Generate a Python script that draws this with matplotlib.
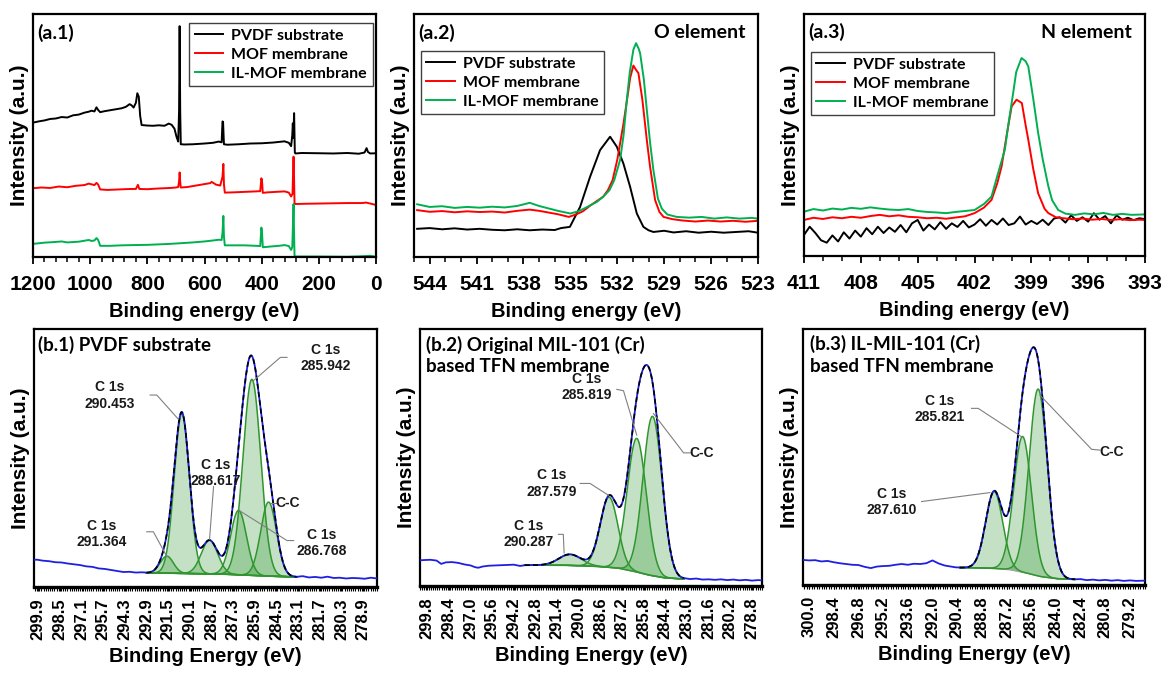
import numpy as np
import matplotlib
matplotlib.use('Agg')
import matplotlib.pyplot as plt
from matplotlib.ticker import FixedLocator

plt.rcParams['font.family'] = ['Liberation Sans', 'DejaVu Sans']
plt.rcParams['font.weight'] = 'bold'
plt.rcParams['axes.labelweight'] = 'bold'
LBL_FONT = ['Lato', 'DejaVu Sans']

# ---------------- (a.1) survey spectra ----------------
a1_pvdf_x = [1200, 1180, 1160, 1140, 1120, 1100, 1080, 1060, 1040, 1020, 1005, 995, 985, 978, 972, 965,
             950, 930, 910, 890, 875, 862, 855, 848, 840, 835, 830, 825, 820, 800, 780, 760, 740, 725,
             715, 705, 698, 692, 689, 687, 685, 683, 670, 640, 600, 570, 550, 540, 537, 535, 532, 520,
             480, 440, 400, 360, 320, 305, 297, 293, 291, 289, 286.5, 284, 282, 260, 200, 150, 100, 60,
             40, 33, 28, 20, 0]
a1_pvdf_y = [55.3, 55.8, 56.2, 56.8, 57.0, 57.6, 57.4, 58.3, 58.6, 59.4, 59.8, 60.2, 59.9, 61.6, 60.5, 59.6,
             60.0, 60.4, 60.8, 61.2, 61.8, 62.9, 62.4, 61.5, 63.5, 67.4, 66.0, 58.0, 54.3, 54.1, 54.0, 54.2,
             54.0, 54.9, 54.4, 52.8, 49.5, 47.5, 60.0, 95.0, 60.0, 46.4, 46.3, 46.4, 46.7, 47.0, 47.5, 47.2,
             55.8, 55.5, 46.4, 46.2, 46.4, 46.7, 46.8, 47.1, 47.6, 47.0, 45.6, 50.0, 55.0, 49.0, 59.2, 43.0,
             42.6, 42.8, 42.7, 42.6, 42.8, 42.5, 43.0, 44.8, 43.2, 42.6, 42.7]
a1_mof_x = [1200, 1170, 1140, 1110, 1080, 1050, 1020, 1005, 995, 985, 978, 972, 965, 940, 900, 860, 840,
            833, 828, 800, 760, 720, 700, 692, 689, 687, 685, 683, 660, 640, 620, 600, 580, 575, 560, 545,
            537, 534, 532, 529, 500, 460, 420, 405, 401, 399, 396, 380, 350, 320, 305, 297, 292, 290,
            288.5, 287, 285, 282, 250, 200, 150, 100, 50, 35, 20, 0]
a1_mof_y = [28.3, 28.6, 28.4, 29.0, 28.7, 29.3, 29.6, 30.2, 29.9, 29.6, 30.5, 29.8, 27.8, 27.6, 27.8, 28.0,
            28.0, 29.7, 28.0, 27.9, 28.2, 28.4, 28.6, 28.8, 31.0, 34.8, 31.0, 28.6, 28.8, 29.2, 29.6, 30.0,
            30.4, 30.9, 29.8, 29.4, 33.0, 38.3, 30.0, 26.5, 26.6, 26.8, 27.0, 27.1, 32.4, 31.5, 26.4, 26.6,
            26.8, 27.0, 26.5, 24.9, 26.0, 35.0, 41.3, 34.0, 22.0, 21.8, 21.9, 22.0, 22.1, 22.2, 22.2, 22.4,
            22.0, 21.4]
a1_il_x = [1200, 1160, 1120, 1100, 1080, 1040, 1005, 995, 985, 978, 972, 965, 930, 890, 850, 800, 760,
           720, 680, 640, 600, 570, 550, 540, 537, 534, 532, 529, 500, 460, 420, 405, 401, 399, 396, 370,
           340, 320, 305, 297, 293, 290, 288.5, 287, 285, 282, 200, 100, 50, 20, 0]
a1_il_y = [5.4, 5.9, 6.2, 6.4, 6.0, 6.3, 7.0, 6.6, 6.8, 7.8, 7.0, 4.6, 4.6, 4.8, 4.9, 5.0, 5.2, 5.4, 5.7,
           6.0, 6.4, 6.8, 7.1, 7.0, 10.0, 16.9, 8.5, 4.8, 4.8, 4.8, 4.6, 4.5, 12.1, 10.5, 4.0, 4.3, 4.6,
           4.9, 4.5, 2.9, 4.0, 15.0, 21.8, 12.0, 0.5, 0.2, 0.2, 0.1, 0.3, 0.5, 0.1]

# ---------------- (a.2) O element ----------------
a2_pvdf_x = [544.8, 544.0, 543.2, 542.4, 541.6, 540.8, 540.0, 539.2, 538.4, 537.6, 536.8, 536.0, 535.6,
             535.03, 534.38, 533.74, 533.1, 532.46, 532.03, 531.61, 531.18, 530.75, 530.33, 530.0, 529.69,
             529.0, 528.4, 527.6, 526.8, 526.0, 525.2, 524.4, 523.6, 523.0]
a2_pvdf_y = [11.6, 11.9, 11.4, 11.8, 11.3, 11.6, 11.2, 11.0, 11.4, 11.0, 11.3, 11.1, 11.9,
             12.4, 20.6, 33.0, 44.0, 49.5, 45.4, 38.5, 28.9, 17.9, 12.4, 11.0, 10.3,
             10.8, 10.1, 10.6, 10.0, 10.4, 10.0, 10.3, 10.6, 10.0]
a2_mof_x = [544.8, 544.0, 543.2, 542.4, 541.6, 540.8, 540.0, 539.2, 538.4, 537.6, 537.0, 536.4, 535.8,
            535.1, 534.6, 534.2, 533.7, 533.2, 532.9, 532.6, 532.3, 532.0, 531.6, 531.3, 531.18, 530.97,
            530.8, 530.65, 530.4, 530.11, 529.9, 529.58, 529.3, 529.04, 528.5, 527.8, 527.0, 526.2,
            525.4, 524.6, 523.8, 523.0]
a2_mof_y = [19.3, 18.6, 18.9, 18.4, 18.8, 18.5, 18.7, 18.3, 19.0, 19.5, 19.0, 18.3, 17.6,
            16.5, 17.6, 18.8, 21.3, 23.5, 24.8, 27.5, 31.6, 40.0, 55.0, 68.0, 73.6, 78.8,
            77.0, 75.7, 65.0, 48.1, 37.0, 23.4, 18.5, 16.5, 15.6, 15.0, 14.6, 15.0,
            14.6, 14.9, 14.5, 14.9]
a2_il_x = [544.8, 544.0, 543.2, 542.4, 541.6, 540.8, 540.0, 539.2, 538.4, 537.6, 537.0, 536.4, 535.8,
           535.0, 534.5, 534.1, 533.3, 532.9, 532.5, 532.2, 531.82, 531.6, 531.39, 531.2, 530.97, 530.8,
           530.65, 530.54, 530.3, 530.11, 529.9, 529.69, 529.4, 529.15, 528.8, 528.2, 527.4, 526.6,
           525.8, 525.0, 524.2, 523.4, 523.0]
a2_il_y = [21.7, 20.6, 20.9, 20.2, 20.6, 20.3, 20.7, 20.4, 21.0, 22.3, 21.0, 20.0, 19.0,
           17.9, 18.8, 20.0, 22.7, 24.8, 27.5, 31.5, 39.9, 50.0, 64.6, 76.0, 85.3, 88.0,
           86.0, 83.9, 73.0, 60.5, 47.0, 35.8, 24.0, 19.9, 17.5, 16.5, 16.2, 16.5,
           15.8, 16.3, 15.8, 16.1, 15.8]

# ---------------- (a.3) N element ----------------
a3_pvdf_x = [411.0, 410.7, 410.4, 410.1, 409.8, 409.5, 409.2, 408.9, 408.6, 408.3, 408.0, 407.7, 407.4,
             407.1, 406.8, 406.5, 406.2, 405.9, 405.6, 405.3, 405.0, 404.7, 404.4, 404.1, 403.8, 403.5,
             403.2, 402.9, 402.6, 402.3, 402.0, 401.7, 401.4, 401.1, 400.8, 400.5, 400.2, 399.9, 399.6,
             399.3, 399.0, 398.7, 398.4, 398.1, 397.8, 397.5, 397.2, 396.9, 396.6, 396.3, 396.0, 395.7,
             395.4, 395.1, 394.8, 394.5, 394.2, 393.9, 393.6, 393.3, 393.0]
a3_pvdf_y = [8.7, 12.1, 9.5, 6.5, 5.5, 8.5, 6.0, 9.8, 7.2, 10.5, 8.0, 11.5, 9.0,
             12.1, 9.5, 11.8, 10.0, 12.8, 9.8, 13.5, 14.9, 10.5, 13.0, 11.0, 14.0, 11.2,
             13.5, 12.0, 14.5, 11.8, 13.0, 15.2, 12.5, 14.9, 13.0, 15.5, 12.8, 13.5, 16.3,
             13.0, 14.5, 13.2, 15.0, 12.8, 15.5, 16.0, 13.8, 16.8, 14.5, 16.0, 14.2, 17.7,
             15.0, 16.5, 13.5, 16.8, 15.0, 15.8, 14.8, 15.6, 15.2]
a3_mof_x = [411.0, 410.5, 410.0, 409.5, 409.0, 408.5, 408.0, 407.5, 407.0, 406.5, 406.0, 405.5, 405.0,
            404.5, 404.0, 403.5, 403.0, 402.5, 402.0, 401.5, 401.1, 400.8, 400.57, 400.3, 400.04, 399.78,
            399.5, 399.3, 399.16, 398.9, 398.64, 398.3, 398.1, 397.7, 397.3, 396.8, 396.3, 395.8, 395.3,
            394.8, 394.3, 393.8, 393.3, 393.0]
a3_mof_y = [14.9, 15.8, 15.3, 16.0, 15.6, 16.2, 15.8, 16.5, 17.0, 16.4, 16.8, 16.2, 16.0,
            15.6, 15.8, 15.4, 15.9, 16.4, 17.7, 20.0, 23.2, 30.0, 37.0, 50.0, 61.8, 64.6,
            63.2, 54.0, 48.0, 36.0, 25.9, 19.5, 17.7, 16.0, 15.6, 15.2, 15.5, 15.0, 15.3,
            14.9, 15.2, 14.8, 15.0, 14.9]
a3_il_x = [411.0, 410.5, 410.0, 409.5, 409.0, 408.5, 408.0, 407.5, 407.0, 406.5, 406.0, 405.5, 405.0,
           404.5, 404.0, 403.5, 403.0, 402.5, 402.0, 401.5, 401.1, 400.8, 400.4, 400.2, 399.96, 399.8,
           399.52, 399.3, 399.16, 398.9, 398.64, 398.4, 398.1, 397.9, 397.58, 397.2, 396.7, 396.2,
           395.7, 395.2, 394.7, 394.2, 393.7, 393.0]
a3_il_y = [18.3, 19.4, 18.8, 19.6, 19.2, 19.9, 19.5, 20.1, 19.6, 19.2, 19.0, 19.4, 18.6,
           18.2, 18.0, 17.7, 18.2, 18.6, 19.0, 21.5, 24.6, 33.0, 43.9, 55.0, 67.3, 76.0,
           81.8, 80.5, 78.3, 65.0, 50.8, 40.0, 28.7, 23.0, 19.0, 17.5, 17.0, 17.6,
           17.2, 17.8, 17.0, 17.4, 17.0, 17.2]

SERIES_NAMES = ['PVDF substrate', 'MOF membrane', 'IL-MOF membrane']

# ---------------- (b) C 1s fits ----------------
# b.1 PVDF substrate
b1_raw_left_x = [300.18, 300.0, 299.6, 299.2, 298.8, 298.4, 298.0, 297.6, 297.2, 296.8, 296.4, 296.0,
                 295.6, 295.2, 294.8, 294.4, 294.0, 293.6, 293.2]
b1_raw_left_y = [10.5, 10.6, 10.2, 10.0, 9.6, 9.5, 9.1, 8.8, 8.5, 8.0, 7.8, 7.2, 7.0, 6.6, 6.2, 5.8,
                 5.9, 5.6, 5.7]
b1_raw_right_x = [282.8, 282.4, 282.0, 281.6, 281.2, 280.8, 280.4, 280.0, 279.6, 279.2, 278.8, 278.4, 278.0]
b1_raw_right_y = [4.2, 3.7, 3.9, 3.6, 4.0, 3.5, 3.6, 3.3, 3.5, 3.4, 3.2, 3.6, 3.3]
b1_bg_x = [292.9, 290.0, 288.0, 286.5, 285.0, 283.2]
b1_bg_y = [5.5, 5.2, 5.0, 4.6, 4.2, 3.9]
b1_centers = [291.59, 290.62, 288.83, 286.95, 286.09, 285.01]
b1_heights = [6.6, 62.0, 13.0, 25.0, 76.0, 28.7]
b1_fwhm = [1.0, 1.15, 1.25, 1.2, 1.35, 1.2]
b1_labels = ['C 1s\n291.364', 'C 1s\n290.453', 'C 1s\n288.617', 'C 1s\n286.768', 'C 1s\n285.942', 'C-C']

# b.2 Original MIL-101 (Cr)
b2_raw_left_x = [300.27, 300.0, 299.6, 299.2, 298.9, 298.6, 298.2, 297.8, 297.4, 297.0, 296.7, 296.5,
                 296.2, 295.8, 295.4, 295.0, 294.6, 294.2, 293.8]
b2_raw_left_y = [10.0, 10.1, 10.2, 9.9, 8.6, 9.2, 9.3, 9.0, 8.4, 8.0, 7.3, 7.1, 7.6, 7.9, 8.0, 8.1,
                 8.2, 8.3, 7.8]
b2_raw_right_x = [282.8, 282.4, 282.0, 281.6, 281.2, 280.8, 280.4, 280.0, 279.6, 279.2, 278.8, 278.4, 278.15]
b2_raw_right_y = [2.7, 2.9, 2.5, 2.6, 2.4, 2.6, 2.3, 2.5, 2.2, 2.4, 2.1, 2.3, 2.2]
b2_bg_x = [293.5, 291.0, 289.0, 287.5, 286.5, 285.5, 284.5, 283.5, 283.2]
b2_bg_y = [8.1, 8.1, 7.7, 7.0, 5.8, 4.3, 3.2, 2.8, 2.8]
b2_centers = [290.56, 288.04, 286.25, 285.23]
b2_heights = [4.3, 27.3, 52.0, 62.0]
b2_fwhm = [1.7, 1.35, 1.45, 1.45]
b2_labels = ['C 1s\n290.287', 'C 1s\n287.579', 'C 1s\n285.819', 'C-C']

# b.3 IL-MIL-101 (Cr)
b3_raw_left_x = [300.39, 300.0, 299.6, 299.2, 298.8, 298.4, 298.0, 297.6, 297.2, 296.8, 296.4, 296.0,
                 295.6, 295.2, 294.8, 294.4, 294.0, 293.6, 293.2, 292.8, 292.4, 292.0, 291.6, 291.2,
                 290.8, 290.5]
b3_raw_left_y = [9.8, 9.6, 9.7, 9.2, 9.4, 8.9, 8.5, 8.2, 7.9, 7.8, 7.1, 6.6, 7.2, 7.4, 7.5, 7.9,
                 8.2, 7.9, 8.3, 8.2, 8.5, 9.6, 8.4, 7.6, 7.2, 6.9]
b3_raw_right_x = [282.4, 282.0, 281.6, 281.2, 280.8, 280.4, 280.0, 279.6, 279.2, 278.8, 278.23]
b3_raw_right_y = [2.3, 1.9, 2.1, 1.8, 2.0, 1.7, 1.9, 1.6, 1.8, 1.6, 1.7]
b3_bg_x = [290.23, 289.0, 288.0, 287.0, 286.0, 285.0, 284.0, 283.0, 282.77]
b3_bg_y = [6.8, 6.7, 6.5, 6.0, 4.8, 3.3, 2.5, 2.2, 2.2]
b3_centers = [288.0, 286.16, 285.15]
b3_heights = [30.0, 53.0, 73.0]
b3_fwhm = [1.3, 1.35, 1.4]
b3_labels = ['C 1s\n287.610', 'C 1s\n285.821', 'C-C']

# ---------------- layout helpers ----------------
W, H = 1166, 675
fig = plt.figure(figsize=(W / 100, H / 100), dpi=100)


def rect(x0, y0, x1, y1):
    return [x0 / W, 1 - y1 / H, (x1 - x0) / W, (y1 - y0) / H]


C_BLACK, C_RED, C_GREEN = '#000000', '#ff0000', '#00b050'
FIT_GREEN = '#2f962f'


def style_a(ax, xlim, majors, minors):
    ax.set_xlim(*xlim)
    ax.set_ylim(0, 100)
    ax.xaxis.set_major_locator(FixedLocator(majors))
    ax.xaxis.set_minor_locator(FixedLocator(minors))
    ax.set_yticks([])
    ax.tick_params(axis='x', which='major', direction='out', length=5, width=1.3,
                   labelsize=15, pad=8)
    ax.tick_params(axis='x', which='minor', direction='out', length=3.5, width=1.1)
    for s in ax.spines.values():
        s.set_linewidth(1.6)
    ax.set_xlabel('Binding energy (eV)', fontsize=14.5, labelpad=6)
    ax.set_ylabel('Intensity (a.u.)', fontsize=15, labelpad=3)


def legend_a(ax, anchor):
    leg = ax.legend(loc='upper left', bbox_to_anchor=anchor, borderaxespad=0,
                    prop={'family': LBL_FONT, 'weight': 'bold', 'size': 11.5},
                    fancybox=False, framealpha=1, edgecolor='#404040',
                    handlelength=1.8, handletextpad=0.5, labelspacing=0.3, borderpad=0.35)
    leg.get_frame().set_linewidth(1.0)


def plot_three(ax, data):
    cols = [C_BLACK, C_RED, C_GREEN]
    for (x, y), c, n in zip(data, cols, SERIES_NAMES):
        ax.plot(x, y, color=c, lw=1.4, label=n)


def corner_text(ax, x, text, ha):
    ax.text(x, 0.924, text, transform=ax.transAxes, ha=ha, va='center',
            fontsize=14, family=LBL_FONT, fontweight='bold')


# (a.1)
ax1 = fig.add_axes(rect(33, 14, 376, 257))
plot_three(ax1, [(a1_pvdf_x, a1_pvdf_y), (a1_mof_x, a1_mof_y), (a1_il_x, a1_il_y)])
style_a(ax1, (1200, 0), np.arange(0, 1201, 200), np.arange(0, 1201, 40))
legend_a(ax1, (0.455, 0.963))
corner_text(ax1, 0.012, '(a.1)', 'left')

# (a.2)
ax2 = fig.add_axes(rect(414, 14, 758, 257))
plot_three(ax2, [(a2_pvdf_x, a2_pvdf_y), (a2_mof_x, a2_mof_y), (a2_il_x, a2_il_y)])
style_a(ax2, (545, 523), np.arange(523, 546, 3), np.arange(523, 546, 1))
legend_a(ax2, (0.02, 0.848))
corner_text(ax2, 0.012, '(a.2)', 'left')
corner_text(ax2, 0.965, 'O element', 'right')

# (a.3)
ax3 = fig.add_axes(rect(804, 14, 1145, 256))
plot_three(ax3, [(a3_pvdf_x, a3_pvdf_y), (a3_mof_x, a3_mof_y), (a3_il_x, a3_il_y)])
style_a(ax3, (411, 393), np.arange(393, 412, 3), np.arange(393, 412, 1))
legend_a(ax3, (0.02, 0.843))
corner_text(ax3, 0.012, '(a.3)', 'left')
corner_text(ax3, 0.962, 'N element', 'right')


# ---------------- b panels ----------------
def style_b(ax, xlim, first_tick, step, nticks):
    ax.set_xlim(*xlim)
    ax.set_ylim(0, 100)
    majors = [round(first_tick - step * k, 1) for k in range(nticks)]
    ax.xaxis.set_major_locator(FixedLocator(majors))
    ax.set_xticklabels(['%.1f' % v for v in majors], rotation=90)
    minors = np.arange(xlim[1], xlim[0], step / 10.0)
    ax.xaxis.set_minor_locator(FixedLocator(minors))
    ax.set_yticks([])
    ax.tick_params(axis='x', which='both', direction='out', length=3, width=0.8,
                   labelsize=12, pad=5)
    for s in ax.spines.values():
        s.set_linewidth(1.6)
    ax.spines['bottom'].set_linewidth(2.4)
    ax.set_xlabel('Binding Energy (eV)', fontsize=14.5, labelpad=5)
    ax.set_ylabel('Intensity (a.u.)', fontsize=15, labelpad=3)


def draw_fit(ax, lx, ly, rx, ry, bgx, bgy, centers, heights, fwhm):
    grid = np.linspace(bgx[0], bgx[-1], 700)
    bg = np.interp(grid, bgx[::-1], bgy[::-1])
    total = bg.copy()
    comps = []
    for c, h, f in zip(centers, heights, fwhm):
        s = f / 2.3548
        g = h * np.exp(-(grid - c) ** 2 / (2 * s * s))
        comps.append(g)
        total = total + g
    ax.plot(grid, bg, color='#a6a6a6', lw=1.0, zorder=2)
    for g in comps:
        ax.fill_between(grid, bg, bg + g, color=FIT_GREEN, alpha=0.28, lw=0, zorder=1)
        ax.plot(grid, bg + g, color=FIT_GREEN, lw=1.1, zorder=3)
    raw_x = list(lx) + list(grid) + list(rx)
    raw_y = list(ly) + list(total) + list(ry)
    ax.plot(raw_x, raw_y, color='#1f1fe0', lw=1.3, zorder=4)
    ax.plot(grid, total, color='black', lw=1.2, ls=(0, (3, 2)), zorder=5)


def leader(ax, xs, ys, text, tx, ty, ha='center'):
    ax.plot(xs, ys, color='#808080', lw=0.8, zorder=6)
    ax.text(tx, ty, text, ha=ha, va='center', fontsize=10, linespacing=1.2,
            color='#1a1a1a', zorder=7)


def title_b(ax, x, text):
    ax.text(x, 0.975, text, transform=ax.transAxes, ha='left', va='top',
            fontsize=13.5, family=LBL_FONT, fontweight='bold', linespacing=1.3)


# (b.1)
bx1 = fig.add_axes(rect(34, 329, 377, 587))
draw_fit(bx1, b1_raw_left_x, b1_raw_left_y, b1_raw_right_x, b1_raw_right_y,
         b1_bg_x, b1_bg_y, b1_centers, b1_heights, b1_fwhm)
style_b(bx1, (300.18, 278.0), 299.9, 1.4, 16)
title_b(bx1, 0.012, '(b.1) PVDF substrate')
leader(bx1, [292.89, 292.46, 291.59], [21.4, 21.4, 11.8], b1_labels[0], 295.8, 20.5)
leader(bx1, [292.67, 292.24, 290.84], [74.4, 74.4, 65.0], b1_labels[1], 295.26, 74.2)
leader(bx1, [288.57, 288.83], [38.9, 18.5], b1_labels[2], 288.46, 44.1)
leader(bx1, [283.39, 283.82, 286.95], [18.0, 18.0, 29.8], b1_labels[3], 281.55, 17.2)
leader(bx1, [283.82, 284.25, 285.98], [89.0, 89.0, 80.0], b1_labels[4], 281.34, 88.9)
leader(bx1, [284.42, 284.86], [32.7, 32.7], b1_labels[5], 283.78, 32.4)

# (b.2)
bx2 = fig.add_axes(rect(420, 329, 762, 586))
draw_fit(bx2, b2_raw_left_x, b2_raw_left_y, b2_raw_right_x, b2_raw_right_y,
         b2_bg_x, b2_bg_y, b2_centers, b2_heights, b2_fwhm)
style_b(bx2, (300.27, 278.15), 299.8, 1.4, 16)
title_b(bx2, 0.018, '(b.2) Original MIL-101 (Cr)\nbased TFN membrane')
leader(bx2, [291.32, 291.0, 290.95], [20.1, 20.1, 12.9], b2_labels[0], 293.26, 20.1)
leader(bx2, [289.91, 289.27, 288.08], [39.9, 39.9, 35.3], b2_labels[1], 291.75, 39.9)
leader(bx2, [287.54, 287.11, 286.25], [76.5, 76.0, 58.7], b2_labels[2], 289.48, 77.3)
leader(bx2, [282.79, 283.22, 285.17], [51.8, 51.8, 67.1], b2_labels[3], 282.04, 51.6)

# (b.3)
bx3 = fig.add_axes(rect(803, 329, 1145, 585))
draw_fit(bx3, b3_raw_left_x, b3_raw_left_y, b3_raw_right_x, b3_raw_right_y,
         b3_bg_x, b3_bg_y, b3_centers, b3_heights, b3_fwhm)
style_b(bx3, (300.39, 278.23), 300.0, 1.6, 14)
title_b(bx3, 0.02, '(b.3) IL-MIL-101 (Cr)\nbased TFN membrane')
leader(bx3, [292.71, 288.28], [32.6, 36.1], b3_labels[0], 294.66, 32.3)
leader(bx3, [289.47, 289.04, 286.23], [69.0, 69.0, 57.9], b3_labels[1], 291.52, 68.6)
leader(bx3, [281.15, 281.69, 285.04], [52.7, 53.0, 74.2], b3_labels[2], 280.39, 52.1)

fig.savefig('out.png', dpi=100)
